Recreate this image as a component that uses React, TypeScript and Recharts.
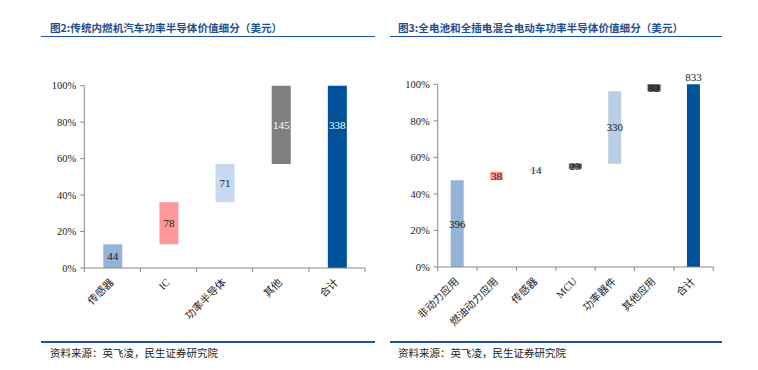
import React from 'react';
import { BarChart, Bar, XAxis, YAxis, Cell, LabelList } from 'recharts';

const leftTitle = '图2:传统内燃机汽车功率半导体价值细分（美元）';
const rightTitle = '图3:全电池和全插电混合电动车功率半导体价值细分（美元）';
const sourceText = '资料来源：英飞凌，民生证券研究院';

const leftCategories = ['传感器', 'IC', '功率半导体', '其他', '合计'];
const leftValues = [44, 78, 71, 145, 338];
const leftColors = ['#95B3D7', '#FF9999', '#C6D9F1', '#7F7F7F', '#00519A'];
const leftLabelColors = ['#1a1a1a', '#1a1a1a', '#1a1a1a', '#ffffff', '#ffffff'];

const rightCategories = ['非动力应用', '燃油动力应用', '传感器', 'MCU', '功率器件', '其他应用', '合计'];
const rightValues = [396, 38, 14, 23, 330, 32, 833];
const rightColors = ['#95B3D7', '#FF9999', '#DCE6F2', '#595959', '#B9CDE5', '#404040', '#00519A'];
const rightLabelColors = ['#1a1a1a', '#1a1a1a', '#1a1a1a', '#1a1a1a', '#1a1a1a', '#1a1a1a', '#1a1a1a'];

const percentTicks = [0, 0.2, 0.4, 0.6, 0.8, 1];

const SERIF = '"Times New Roman", "Liberation Serif", "Noto Sans CJK SC", serif';
const CJK = '"Noto Sans CJK SC", "Liberation Serif", serif';
const AXIS = '#8a8a8a';
const NAVY = '#1F4E8F';

type Row = {
  name: string;
  base: number;
  seg: number;
  mid: number | null;
  top: number | null;
  baseFill: string;
  fill: string;
};

function buildWaterfall(
  categories: string[],
  values: number[],
  colors: string[],
  totalLabelOnTop: boolean
): Row[] {
  const n = values.length;
  const total = values[n - 1];
  let cum = 0;
  return categories.map((name, i) => {
    if (i < n - 1) {
      const row: Row = {
        name,
        base: cum / total,
        seg: values[i] / total,
        mid: values[i],
        top: null,
        baseFill: 'transparent',
        fill: colors[i],
      };
      cum += values[i];
      return row;
    }
    if (totalLabelOnTop) {
      return { name, base: 0, seg: 1, mid: null, top: values[i], baseFill: 'transparent', fill: colors[i] };
    }
    const split = (total - values[n - 2]) / total;
    return { name, base: split, seg: 1 - split, mid: values[i], top: null, baseFill: colors[i], fill: colors[i] };
  });
}

const leftData = buildWaterfall(leftCategories, leftValues, leftColors, false);
const rightData = buildWaterfall(rightCategories, rightValues, rightColors, true);

const makeMidLabel = (labelColors: string[]) => (props: any) => {
  const { value, index } = props;
  if (value === null || value === undefined) return null;
  const vb = props.viewBox && props.viewBox.width !== undefined ? props.viewBox : props;
  const { x, y, width, height } = vb;
  return (
    <text
      x={x + width / 2}
      y={y + height / 2}
      dy="0.36em"
      textAnchor="middle"
      fill={labelColors[index] ?? '#1a1a1a'}
      fontSize={11}
      fontFamily={SERIF}
    >
      {value}
    </text>
  );
};

const makeTick = (bandWidth: number, count: number) => (props: any) => {
  const { x, y, payload, index } = props;
  const half = bandWidth / 2;
  return (
    <g>
      <line x1={x - half} y1={y} x2={x - half} y2={y + 4} stroke={AXIS} strokeWidth={1} />
      {index === count - 1 && (
        <line x1={x + half} y1={y} x2={x + half} y2={y + 4} stroke={AXIS} strokeWidth={1} />
      )}
      <text
        x={x + 2}
        y={y + 15}
        transform={`rotate(-45, ${x + 2}, ${y + 15})`}
        textAnchor="end"
        fill="#222"
        fontSize={10.5}
        fontFamily={SERIF}
      >
        {payload.value}
      </text>
    </g>
  );
};

type PanelProps = {
  data: Row[];
  width: number;
  height: number;
  plotLeft: number;
  plotTop: number;
  plotRight: number;
  plotBottom: number;
  barSize: number;
  labelColors: string[];
};

function WaterfallPanel(p: PanelProps) {
  const n = p.data.length;
  const band = (p.plotRight - p.plotLeft) / n;
  return (
    <BarChart
      width={p.width}
      height={p.height}
      data={p.data}
      margin={{ top: p.plotTop, right: p.width - p.plotRight, bottom: 0, left: 0 }}
      barSize={p.barSize}
    >
      <XAxis
        dataKey="name"
        interval={0}
        height={p.height - p.plotBottom}
        axisLine={{ stroke: AXIS }}
        tickLine={false}
        tickSize={0}
        tickMargin={0}
        tick={makeTick(band, n)}
      />
      <YAxis
        type="number"
        domain={[0, 1]}
        ticks={percentTicks}
        width={p.plotLeft}
        axisLine={{ stroke: AXIS }}
        tickLine={{ stroke: AXIS }}
        tickSize={4}
        tickMargin={4}
        tickFormatter={(v: number) => `${Math.round(v * 100)}%`}
        tick={{ fill: '#222', fontSize: 10.5, fontFamily: SERIF }}
      />
      <Bar dataKey="base" stackId="w" isAnimationActive={false}>
        {p.data.map((d, i) => (
          <Cell key={`b${i}`} fill={d.baseFill} />
        ))}
      </Bar>
      <Bar dataKey="seg" stackId="w" isAnimationActive={false}>
        {p.data.map((d, i) => (
          <Cell key={`s${i}`} fill={d.fill} />
        ))}
        <LabelList dataKey="mid" content={makeMidLabel(p.labelColors)} />
        <LabelList
          dataKey="top"
          position="top"
          offset={3}
          fill="#1a1a1a"
          fontSize={11}
          fontFamily={SERIF}
        />
      </Bar>
    </BarChart>
  );
}

const titleStyle: React.CSSProperties = {
  position: 'absolute',
  fontFamily: CJK,
  fontWeight: 700,
  fontSize: 10.6,
  lineHeight: '12px',
  color: NAVY,
  whiteSpace: 'nowrap',
};

const sourceStyle: React.CSSProperties = {
  position: 'absolute',
  fontFamily: CJK,
  fontSize: 10.5,
  lineHeight: '12px',
  color: '#222',
  whiteSpace: 'nowrap',
};

const rule = (left: number, top: number, width: number): React.CSSProperties => ({
  position: 'absolute',
  left,
  top,
  width,
  height: 1.5,
  background: '#1F5597',
});

export default function App() {
  return (
    <div style={{ position: 'absolute', left: 0, top: 0, width: 758, height: 370, background: '#fff', overflow: 'hidden' }}>
      <div style={{ ...titleStyle, left: 50, top: 22 }}>{leftTitle}</div>
      <div style={rule(41, 35.5, 334)} />
      <div style={{ ...titleStyle, left: 398, top: 22 }}>{rightTitle}</div>
      <div style={rule(390, 35.5, 332)} />

      <div style={{ position: 'absolute', left: 0, top: 0 }}>
        <WaterfallPanel
          data={leftData}
          width={380}
          height={370}
          plotLeft={84.3}
          plotTop={85.7}
          plotRight={365}
          plotBottom={268}
          barSize={19}
          labelColors={leftLabelColors}
        />
      </div>
      <div style={{ position: 'absolute', left: 380, top: 0 }}>
        <WaterfallPanel
          data={rightData}
          width={378}
          height={370}
          plotLeft={57.7}
          plotTop={84.3}
          plotRight={333.3}
          plotBottom={267}
          barSize={13}
          labelColors={rightLabelColors}
        />
      </div>

      <div style={rule(41, 341, 334)} />
      <div style={{ ...sourceStyle, left: 50, top: 347 }}>{sourceText}</div>
      <div style={rule(390, 341, 332)} />
      <div style={{ ...sourceStyle, left: 398, top: 347 }}>{sourceText}</div>
    </div>
  );
}
